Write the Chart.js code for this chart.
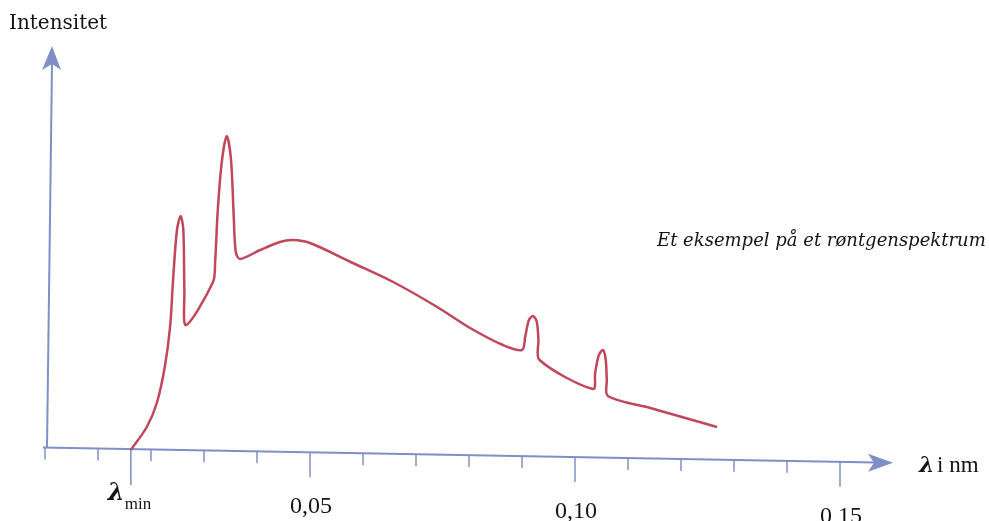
<!DOCTYPE html>
<html>
<head>
<meta charset="utf-8">
<script src="https://cdn.jsdelivr.net/npm/chart.js@4/dist/chart.umd.min.js"></script>
<style>
  html, body { margin: 0; padding: 0; background: #ffffff; }
  #wrap { width: 989px; height: 521px; position: relative; }
</style>
</head>
<body>
<div id="wrap"><canvas id="c" width="989" height="521"></canvas></div>
<script>
// ---- data ----
const wavelengthNm = [0.0162, 0.0192, 0.0211, 0.0226, 0.0236, 0.0242, 0.0249, 0.0256, 0.0261, 0.0263,
  0.0266, 0.0317, 0.0321, 0.0326, 0.0334, 0.0343, 0.0351, 0.0356, 0.0360,
  0.0368, 0.0406, 0.0443, 0.0468, 0.0500, 0.0581, 0.0657, 0.0740, 0.0802, 0.0864,
  0.0900, 0.0906, 0.0913, 0.0921, 0.0928, 0.0931, 0.0933, 0.1034, 0.1038,
  0.1045, 0.1053, 0.1058, 0.1060, 0.1062, 0.1142, 0.1268];
const intensity = [0, 5.75, 11.75, 20.75, 30.75, 43.25, 55, 58.5, 55, 40,
  31.25, 42, 47, 60, 72.5, 78.5, 72.5, 58.75, 49.5,
  47.75, 50, 52, 52.5, 51.75, 46.75, 42, 35.75, 30.5, 26.25,
  25, 28.25, 32.5, 33.5, 32, 27.5, 22.5, 15.25, 19.25,
  23.75, 25, 22.5, 17.5, 13.5, 10.5, 5.75];
const minorTicks = [0, 0.01, 0.02, 0.03, 0.04, 0.06, 0.07, 0.08, 0.09, 0.11, 0.12, 0.13, 0.14];
const majorTicks = [0.05, 0.10, 0.15];
const majorTickLabels = ['0,05', '0,10', '0,15'];
const lambdaMin = 0.0162;
const yTitle = 'Intensitet';
const xTitle = 'i nm';
const caption = 'Et eksempel på et røntgenspektrum';

const AXIS = '#7f90c6';
const CURVE = '#c2465c';
const SERIF = '"DejaVu Serif", "Liberation Serif", serif';
const TEXT = '#141414';

const axesPlugin = {
  id: 'handAxes',
  beforeDatasetsDraw(chart) {
    const ctx = chart.ctx;
    const xs = chart.scales.x, ys = chart.scales.y;
    const y0 = ys.getPixelForValue(0);
    const tilt = 0.018;
    const axisY = (px) => y0 - 1 + (px - xs.getPixelForValue(lambdaMin)) * tilt;
    const xEnd = xs.getPixelForValue(xs.max);
    const xStart = xs.getPixelForValue(0) - 2;
    ctx.save();
    ctx.strokeStyle = AXIS; ctx.fillStyle = AXIS;
    ctx.lineWidth = 2; ctx.lineCap = 'butt';
    // horizontal axis
    ctx.beginPath();
    ctx.moveTo(xStart, axisY(xStart));
    ctx.lineTo(xEnd - 18, axisY(xEnd - 18));
    ctx.stroke();
    const ay = axisY(xEnd);
    ctx.beginPath();
    ctx.moveTo(xEnd, ay);
    ctx.lineTo(xEnd - 25, ay - 9);
    ctx.lineTo(xEnd - 19, ay);
    ctx.lineTo(xEnd - 25, ay + 9);
    ctx.closePath();
    ctx.fill();
    // vertical axis
    const vx0 = xs.getPixelForValue(0) + 2;
    const top = ys.getPixelForValue(ys.max);
    ctx.beginPath();
    ctx.moveTo(vx0, axisY(vx0));
    ctx.lineTo(vx0 + 5, top + 18);
    ctx.stroke();
    ctx.beginPath();
    ctx.moveTo(vx0 + 5, top);
    ctx.lineTo(vx0 - 5, top + 24);
    ctx.lineTo(vx0 + 5, top + 18);
    ctx.lineTo(vx0 + 14, top + 24);
    ctx.closePath();
    ctx.fill();
    // ticks
    ctx.lineWidth = 1.5;
    minorTicks.forEach(v => {
      const px = xs.getPixelForValue(v);
      const py = axisY(px);
      ctx.beginPath(); ctx.moveTo(px, py); ctx.lineTo(px, py + 12); ctx.stroke();
    });
    majorTicks.forEach(v => {
      const px = xs.getPixelForValue(v);
      const py = axisY(px);
      ctx.beginPath(); ctx.moveTo(px, py); ctx.lineTo(px, py + 25); ctx.stroke();
    });
    const lpx = xs.getPixelForValue(lambdaMin);
    ctx.beginPath(); ctx.moveTo(lpx, axisY(lpx)); ctx.lineTo(lpx, axisY(lpx) + 36); ctx.stroke();
    // labels
    ctx.fillStyle = TEXT;
    ctx.textBaseline = 'alphabetic';
    ctx.textAlign = 'center';
    ctx.font = '24px "Liberation Serif", serif';
    majorTicks.forEach((v, i) => {
      const px = xs.getPixelForValue(v);
      ctx.fillText(majorTickLabels[i], px + 1, axisY(px) + 61);
    });
    // lambda min
    ctx.textAlign = 'left';
    ctx.font = 'italic bold 24px ' + SERIF;
    ctx.fillText('λ', lpx - 23, 500);
    ctx.font = '17px "Liberation Serif", serif';
    ctx.fillText('min', lpx - 6, 509);
    // x title
    ctx.font = 'italic bold 22px ' + SERIF;
    ctx.fillText('λ', 919, 472);
    ctx.font = '23px "Liberation Serif", serif';
    ctx.fillText(xTitle, 937, 472);
    // y title
    ctx.font = '20px ' + SERIF;
    ctx.fillText(yTitle, 9, 29);
    // caption
    ctx.font = 'italic 18px ' + SERIF;
    ctx.fillText(caption, 657, 246);
    ctx.restore();
  }
};

new Chart(document.getElementById('c'), {
  type: 'line',
  data: {
    datasets: [{
      data: wavelengthNm.map((x, i) => ({ x: x, y: intensity[i] })),
      borderColor: CURVE,
      borderWidth: 2.5,
      pointRadius: 0,
      fill: false,
      tension: 0.3,
      clip: false
    }]
  },
  options: {
    responsive: false,
    animation: false,
    devicePixelRatio: 1,
    layout: { padding: { left: 45, right: 96, top: 46, bottom: 71 } },
    plugins: { legend: { display: false }, tooltip: { enabled: false }, title: { display: false } },
    scales: {
      x: { type: 'linear', min: 0, max: 0.16, display: false },
      y: { type: 'linear', min: 0, max: 101, display: false }
    }
  },
  plugins: [axesPlugin]
});
</script>
</body>
</html>
